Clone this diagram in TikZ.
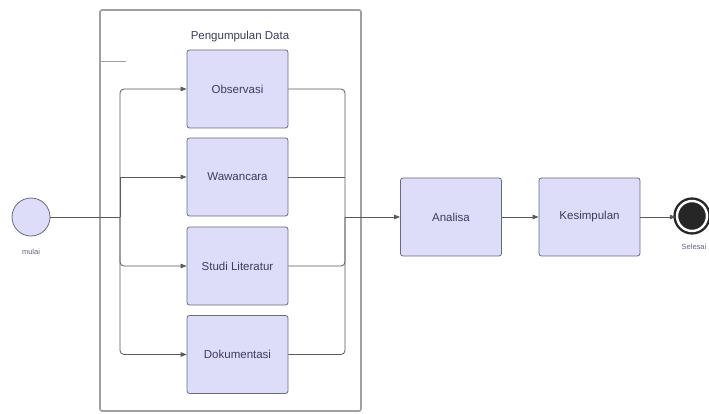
\documentclass[tikz,border=0pt]{standalone}
\usepackage{fontspec}
\setmainfont{Liberation Sans}
\usetikzlibrary{arrows.meta}
\definecolor{boxfill}{HTML}{DDDDF9}
\definecolor{boxline}{HTML}{6A6A7E}
\definecolor{txt}{HTML}{3C3C5C}
\definecolor{conn}{HTML}{5A5A5A}
\definecolor{frame}{HTML}{A0A0A0}
\tikzset{
  actbox/.style={draw=boxline, line width=0.8pt, fill=boxfill, rounded corners=2.5pt,
    minimum width=101pt, minimum height=78pt, inner sep=0pt, text=txt,
    font=\fontsize{11.5}{13}\selectfont},
  conline/.style={draw=conn, line width=0.8pt},
  arr/.style={conline, -{Triangle[length=6pt,width=4.5pt]}},
  smalllab/.style={text=txt!80, font=\fontsize{7.5}{8}\selectfont, inner sep=0pt}
}
\begin{document}
\begin{tikzpicture}[x=1pt,y=-1pt]
\useasboundingbox (0,0) rectangle (709,414);
\fill[white] (0,0) rectangle (709,414);
% container
\draw[frame, line width=1.6pt, rounded corners=2pt] (100,10) rectangle (361,411);
\draw[frame, line width=0.8pt] (100,61) -- (126,61);
\node[text=txt, font=\fontsize{11.5}{13}\selectfont] (title) at (240,37) {Pengumpulan Data};
% nodes
\node[circle, draw=boxline, line width=0.8pt, fill=boxfill, minimum size=38pt, inner sep=0pt] (mulai) at (31,217) {};
\node[smalllab] (mulailab) at (31,252) {mulai};
\node[actbox] (obs) at (237.5,89) {Observasi};
\node[actbox] (waw) at (237.5,177) {Wawancara};
\node[actbox] (stu) at (237.5,266) {Studi Literatur};
\node[actbox] (dok) at (237.5,354.5) {Dokumentasi};
\node[actbox] (ana) at (451,217) {Analisa};
\node[actbox] (kes) at (589.5,217) {Kesimpulan};
\node[circle, fill=black!85, draw=black!85, line width=2.4pt, minimum size=30pt, inner sep=0pt,
      double=white, double distance=2.4pt] (end) at (692,216) {};
\node[smalllab] (endlab) at (694,247) {Selesai};
% connectors
\coordinate (jl) at (120,217);
\coordinate (jr) at (345,217);
\draw[conline] (mulai.east) -- (jl);
\draw[arr, rounded corners=4pt] (jl) |- (obs.west);
\draw[arr] (jl |- waw.west) -- (waw.west);
\draw[conline] (jl) |- (jl |- waw.west);
\draw[arr, rounded corners=4pt] (jl) |- (stu.west);
\draw[arr, rounded corners=4pt] (jl) |- (dok.west);
\draw[conline, rounded corners=4pt] (obs.east) -| (jr);
\draw[conline] (waw.east) -- (jr |- waw.east);
\draw[conline, rounded corners=4pt] (stu.east) -| (jr);
\draw[conline, rounded corners=4pt] (dok.east) -| (jr);
\draw[arr] (jr) -- (ana.west);
\draw[arr] (ana.east) -- (kes.west);
\draw[arr] (kes.east) -- (kes.east -| end.west);
\end{tikzpicture}
\end{document}
